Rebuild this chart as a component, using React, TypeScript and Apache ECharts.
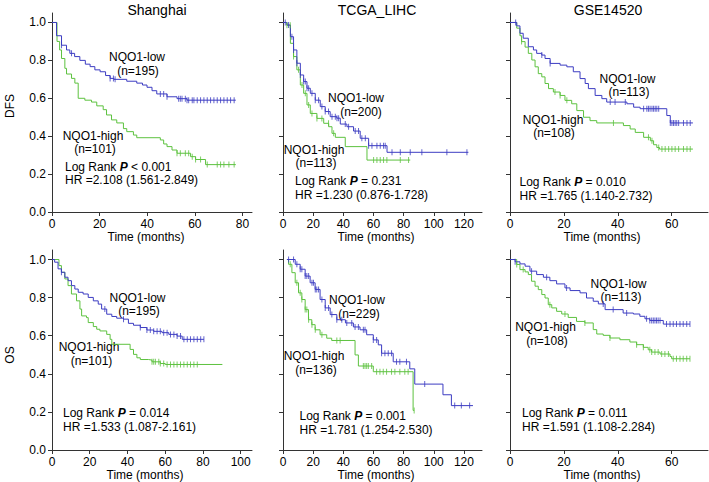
import React, { useEffect, useRef } from 'react';
import * as echarts from 'echarts';

// ---------- tick labels ----------
const yTicks = [0, 0.2, 0.4, 0.6, 0.8, 1.0];
const xTicksShDfs = [0, 20, 40, 60, 80];
const xTicksShOs = [0, 20, 40, 60, 80, 100];
const xTicksTcga = [0, 20, 40, 60, 80, 100, 120];
const xTicksGse = [0, 20, 40, 60];

// ---------- Shanghai DFS ----------
const shDfsLow = [[0,1],[1.9,0.93],[4,0.88],[6.1,0.855],[7.5,0.837],[9.5,0.82],[11.7,0.8],[14,0.78],[16,0.767],[18,0.75],[20.2,0.74],[22.5,0.72],[24.4,0.705],[26,0.7],[31.4,0.69],[35.6,0.68],[38,0.67],[39.9,0.658],[42,0.64],[44,0.623],[48.3,0.608],[52.5,0.598],[56.7,0.59],[77.2,0.59]];
const shDfsLowCens = [4,8.2,24.4,25.8,26.5,45.5,46.9,48.3,53.2,53.9,54.6,56,56.7,57.4,58.9,59.6,61,62.4,63.8,65.2,66.6,68,69.4,70.8,72.2,73.6,75,76.5];
const shDfsHigh = [[0,1],[2.1,0.9],[3.2,0.855],[4,0.81],[5.4,0.758],[6.1,0.728],[8.2,0.705],[9.6,0.68],[11,0.6],[13.8,0.59],[16.6,0.58],[18.8,0.56],[21.5,0.54],[22.9,0.512],[25,0.486],[27.2,0.47],[30,0.44],[31.4,0.424],[34.2,0.406],[35.6,0.392],[45.5,0.38],[46.9,0.359],[48.3,0.345],[50.4,0.327],[52.5,0.31],[58.2,0.292],[60.3,0.277],[64.5,0.25],[77.2,0.25]];
const shDfsHighCens = [52.5,53.9,56,57.4,58.9,60.3,62.4,65.2,69.4,70.8,72.2,74.3,76.5];

// ---------- TCGA_LIHC DFS ----------
const tcgaDfsLow = [[0,1],[2.6,0.987],[4.9,0.925],[7,0.855],[9.2,0.785],[11.5,0.723],[13.7,0.688],[15.9,0.653],[18.1,0.626],[21.4,0.59],[24.7,0.556],[28,0.53],[31.3,0.503],[35.7,0.495],[38,0.464],[42.4,0.45],[46.8,0.427],[51.2,0.389],[56.8,0.35],[69,0.315],[123,0.315]];
const tcgaDfsLowCens = [1.5,3.7,5.9,7,9.2,11.5,13.7,14.8,15.9,17,19.2,21.4,23.6,25.8,28,30.2,32.5,34.7,35.8,36.9,41.3,43.5,47.9,50.1,52.3,54.6,56.8,59,62.3,64.5,66.7,67.8,72.3,77.8,84.4,92.1,108.7,122];
const tcgaDfsHigh = [[0,1],[2.6,0.985],[4.9,0.89],[7,0.82],[9.2,0.75],[11.5,0.67],[13.7,0.626],[15.9,0.565],[18.1,0.52],[22.5,0.494],[27,0.468],[30.3,0.45],[32.5,0.415],[34.7,0.394],[41.3,0.345],[55.7,0.274],[84.4,0.274]];
const tcgaDfsHighCens = [2.6,4.8,7,10.3,12.6,14.8,17,19.2,22.5,25.8,30.2,33.6,60.1,62.3,64.5,66.7,68.9,77.8,83.3];

// ---------- GSE14520 DFS ----------
const gseDfsLow = [[0,1],[2.5,0.982],[3.7,0.943],[4.9,0.917],[6.8,0.872],[8.7,0.855],[9.9,0.837],[11.8,0.828],[13,0.81],[14.9,0.784],[18.6,0.775],[21.1,0.766],[23.5,0.74],[26,0.704],[27.9,0.678],[29.1,0.651],[31.6,0.615],[34.1,0.598],[35.9,0.58],[43.4,0.571],[45.9,0.553],[48.3,0.545],[58.2,0.509],[59.5,0.47],[67.9,0.47]];
const gseDfsLowCens = [2.1,11.8,14.9,37.2,39,42.8,49.6,50.8,51.4,52,52.7,53.3,53.9,54.5,55.2,59.5,60.1,60.7,61.3,61.9,62.6,64.4,65.7,66.9];
const gseDfsHigh = [[0,1],[2.5,0.97],[3.7,0.93],[4.3,0.899],[5.6,0.87],[6.8,0.837],[8.1,0.802],[9.3,0.766],[10.5,0.73],[11.8,0.713],[13,0.678],[14.3,0.651],[16.1,0.633],[18.6,0.615],[20.4,0.589],[22.9,0.571],[24.8,0.535],[27.3,0.5],[29.7,0.482],[32.2,0.47],[42.1,0.456],[44.6,0.438],[46.5,0.42],[49.6,0.394],[52.1,0.376],[53.3,0.355],[54.5,0.34],[55.5,0.332],[67.9,0.332]];
const gseDfsHighCens = [4.3,16.7,18.6,21.1,38.4,51.4,52.7,55.2,56.4,57.6,58.9,60.1,61.3,62.6,64.4,65.7,66.9];

// ---------- Shanghai OS ----------
const shOsLow = [[0,1],[1.4,0.986],[3.2,0.951],[5,0.933],[6.8,0.907],[8.5,0.889],[10.3,0.863],[12.1,0.845],[13.9,0.828],[16.5,0.819],[19.2,0.801],[21.9,0.783],[24.5,0.766],[26.3,0.74],[29,0.713],[31.7,0.701],[34.3,0.692],[37.9,0.687],[40.5,0.665],[43.2,0.655],[46.8,0.643],[50.3,0.63],[53.9,0.623],[58.3,0.616],[61.9,0.607],[66.3,0.598],[69,0.581],[80.5,0.581]];
const shOsLowCens = [5,28,37.9,46.8,50.3,52.1,53.9,55.7,57.4,59.2,61,62.8,64.6,66.3,68.1,69.9,71.7,73.4,75.2,77,78.8,80.5];
const shOsHigh = [[0,1],[3.7,0.968],[5,0.933],[6.8,0.898],[8.5,0.863],[10.3,0.819],[13,0.783],[14.8,0.74],[15.7,0.704],[18.3,0.695],[19.2,0.669],[21.9,0.648],[23.7,0.634],[25.4,0.625],[29,0.607],[30.8,0.581],[31.7,0.555],[41.4,0.528],[43.2,0.502],[45,0.484],[46.8,0.475],[51.2,0.472],[53,0.463],[57.4,0.454],[60,0.449],[90.3,0.449]];
const shOsHighCens = [53,53.9,54.8,56.6,57.4,59.2,61,62.8,64.6,66.3,68.1,69.9,71.7,73.4,75.2,77];

// ---------- TCGA_LIHC OS ----------
const tcgaOsLow = [[2.6,1],[8.1,0.975],[11.4,0.949],[14.7,0.913],[18,0.878],[21.3,0.843],[24.6,0.79],[28,0.746],[31.3,0.711],[35.7,0.684],[41.4,0.667],[46.7,0.646],[51.1,0.631],[55.5,0.605],[59.9,0.578],[63.2,0.552],[65.4,0.508],[73.1,0.463],[84.1,0.426],[87.4,0.346],[106.1,0.29],[111.7,0.233],[126,0.233]];
const tcgaOsLowCens = [3.7,7,9.2,11.4,12.5,14.7,15.8,17,19.2,20.2,21.4,22.4,23.6,25.8,28,30.2,32.4,35.7,39,42.3,45.6,47.8,50,53.3,54.4,59.9,62.1,65.4,67.6,69.8,72,75.3,77.5,81.9,94,113.9,118.3,123.8];
const tcgaOsHigh = [[2.6,1],[3.7,0.975],[5.9,0.931],[8.1,0.878],[10.3,0.825],[12.5,0.79],[14.7,0.737],[16.9,0.684],[19.1,0.658],[21.3,0.631],[24.6,0.605],[29,0.587],[32.3,0.575],[47.8,0.499],[50,0.441],[59.9,0.411],[86.3,0.208],[87,0.208]];
const tcgaOsHighCens = [4.8,9.2,11.4,12.5,14.7,15.8,17,19.2,21.4,25.8,35.7,37.9,53.3,54.4,55.5,56.6,58.8,62.1,64.3,66.5,68.7,72,74.2,77.5,80.8,83,87];

// ---------- GSE14520 OS ----------
const gseOsLow = [[0,1],[1.9,0.988],[3.7,0.977],[5.6,0.965],[7.4,0.939],[9.9,0.921],[12.4,0.907],[14.8,0.889],[17.3,0.872],[20.4,0.851],[22.3,0.837],[26,0.825],[28.4,0.798],[30.9,0.781],[32.8,0.767],[35.3,0.737],[42,0.719],[45.8,0.714],[48.2,0.702],[50.1,0.689],[51.9,0.68],[56.9,0.661],[66.8,0.661]];
const gseOsLowCens = [1.9,8,13.6,21,34.6,38.3,43.3,50.7,51.9,52.6,53.2,53.8,54.4,55,55.7,58.1,59.4,60.6,61.8,63.1,64.3,65.6,66.8];
const gseOsHigh = [[0,1],[2.5,0.974],[3.7,0.947],[5.6,0.935],[6.8,0.921],[8,0.886],[9.3,0.86],[10.5,0.842],[11.8,0.816],[13,0.798],[14.2,0.763],[15.5,0.746],[17.3,0.728],[19.2,0.714],[21.6,0.696],[24.7,0.675],[27.8,0.667],[30.9,0.632],[32.2,0.609],[34.6,0.602],[37.1,0.588],[40.8,0.579],[44.5,0.567],[47,0.553],[49.5,0.539],[51.3,0.526],[52.6,0.514],[55.7,0.504],[59.4,0.491],[60,0.479],[66.8,0.479]];
const gseOsHighCens = [2.5,4.9,14.8,20.4,27.8,37.1,47,49.5,51.9,52.6,53.8,55,56.3,57.5,58.8,60.6,61.8,63.1,64.3,65.6,66.8];

// ---------- texts ----------
const titles = ['Shanghai', 'TCGA_LIHC', 'GSE14520'];
const rowNames = ['DFS', 'OS'];
const xName = 'Time (months)';
const lowLabels = ['NQO1-low', 'NQO1-low', 'NQO1-low', 'NQO1-low', 'NQO1-low', 'NQO1-low'];
const lowN = ['(n=195)', '(n=200)', '(n=113)', '(n=195)', '(n=229)', '(n=113)'];
const highLabels = ['NQO1-high', 'NQO1-high', 'NQO1-high', 'NQO1-high', 'NQO1-high', 'NQO1-high'];
const highN = ['(n=101)', '(n=113)', '(n=108)', '(n=101)', '(n=136)', '(n=108)'];
const pOps = ['<', '=', '=', '=', '=', '='];
const pVals = ['0.001', '0.231', '0.010', '0.014', '0.001', '0.011'];
const hrTexts = ['HR =2.108 (1.561-2.849)', 'HR =1.230 (0.876-1.728)', 'HR =1.765 (1.140-2.732)', 'HR =1.533 (1.087-2.161)', 'HR =1.781 (1.254-2.530)', 'HR =1.591 (1.108-2.284)'];

const BLUE = '#3c3cc2';
const GREEN = '#5dc23f';
const FONT = '"Liberation Sans", Arial, Helvetica, sans-serif';
const AXIS = '#333';

function stepAt(curve: number[][], t: number) {
  let s = curve[0][1];
  for (const [ct, cs] of curve) {
    if (ct <= t) s = cs; else break;
  }
  return s;
}

const panels = [
  { grid: { left: 52, top: 13, width: 200, height: 199 }, xMax: 84, xTicks: xTicksShDfs, yLabels: true, low: shDfsLow, lowC: shDfsLowCens, high: shDfsHigh, highC: shDfsHighCens,
    lowPos: [137, 57, 138, 70.5], highPos: [93, 135.5, 95, 149], statPos: [65, 166.5, 180], namePos: [146, 237] },
  { grid: { left: 283, top: 13, width: 199, height: 199 }, xMax: 132, xTicks: xTicksTcga, yLabels: false, low: tcgaDfsLow, lowC: tcgaDfsLowCens, high: tcgaDfsHigh, highC: tcgaDfsHighCens,
    lowPos: [356, 98, 361, 111.5], highPos: [314, 149.5, 316, 163], statPos: [295, 181, 194.5], namePos: [376, 237] },
  { grid: { left: 510, top: 13, width: 198, height: 199 }, xMax: 73.5, xTicks: xTicksGse, yLabels: false, low: gseDfsLow, lowC: gseDfsLowCens, high: gseDfsHigh, highC: gseDfsHighCens,
    lowPos: [627.5, 78.5, 629, 92], highPos: [553, 119.5, 554, 133], statPos: [519.5, 182, 195.5], namePos: [602, 237] },
  { grid: { left: 52, top: 250, width: 200, height: 200 }, xMax: 106, xTicks: xTicksShOs, yLabels: true, low: shOsLow, lowC: shOsLowCens, high: shOsHigh, highC: shOsHighCens,
    lowPos: [137.5, 297.5, 139, 311], highPos: [89, 347, 91.5, 360.5], statPos: [63, 413, 426.5], namePos: [145, 474.5] },
  { grid: { left: 283, top: 250, width: 199, height: 200 }, xMax: 132, xTicks: xTicksTcga, yLabels: false, low: tcgaOsLow, lowC: tcgaOsLowCens, high: tcgaOsHigh, highC: tcgaOsHighCens,
    lowPos: [357, 300, 359, 313.5], highPos: [314, 356, 316, 369.5], statPos: [299.5, 416, 429.5], namePos: [376, 474.5] },
  { grid: { left: 510, top: 250, width: 198, height: 200 }, xMax: 73.5, xTicks: xTicksGse, yLabels: false, low: gseOsLow, lowC: gseOsLowCens, high: gseOsHigh, highC: gseOsHighCens,
    lowPos: [618.5, 283.5, 621, 297], highPos: [545.5, 327, 547, 340.5], statPos: [522, 413, 426.5], namePos: [602, 474.5] },
];

const titlePos = [[157, 10], [377, 10], [608, 10]];
const rowNamePos = [[10, 106], [10, 355]];

function buildOption() {
  const grids: any[] = [];
  const xAxes: any[] = [];
  const yAxes: any[] = [];
  const series: any[] = [];
  const graphic: any[] = [];

  const txt = (text: string, x: number, y: number, align: string, size = 12, extra: any = {}) => ({
    type: 'text', x, y, silent: true, ...extra,
    style: { text, fill: '#000', fontSize: size, fontFamily: FONT, align, verticalAlign: 'middle' },
  });

  panels.forEach((p, i) => {
    grids.push({ ...p.grid, containLabel: false });
    xAxes.push({
      type: 'value', gridIndex: i, min: 0, max: p.xMax, interval: 20,
      axisLine: { show: true, onZero: false, lineStyle: { color: AXIS, width: 1 } },
      axisTick: { show: true, length: 4, inside: false, customValues: p.xTicks, lineStyle: { color: AXIS } },
      axisLabel: { show: true, customValues: p.xTicks, margin: 6, fontSize: 12, color: '#000', fontFamily: FONT },
      splitLine: { show: false },
    });
    yAxes.push({
      type: 'value', gridIndex: i, min: 0, max: 1.05, interval: 0.2,
      axisLine: { show: true, onZero: false, lineStyle: { color: AXIS, width: 1 } },
      axisTick: { show: true, length: 4, inside: false, customValues: yTicks, lineStyle: { color: AXIS } },
      axisLabel: { show: p.yLabels, customValues: yTicks, margin: 6, fontSize: 12, color: '#000', fontFamily: FONT,
        formatter: (v: number) => v.toFixed(1) },
      splitLine: { show: false },
    });
    const curves: [number[][], number[], string, string][] = [
      [p.high, p.highC, GREEN, 'high'],
      [p.low, p.lowC, BLUE, 'low'],
    ];
    curves.forEach(([curve, cens, color, key]) => {
      series.push({
        type: 'line', name: key + i, xAxisIndex: i, yAxisIndex: i, data: curve, step: 'end',
        symbol: 'none', silent: true, lineStyle: { color, width: 1 }, z: 2,
      });
      series.push({
        type: 'scatter', name: key + 'c' + i, xAxisIndex: i, yAxisIndex: i,
        data: cens.map((t) => [t, stepAt(curve, t)]),
        symbol: 'rect', symbolSize: [1, 6], silent: true, itemStyle: { color }, z: 3,
      });
    });

    graphic.push(txt(lowLabels[i], p.lowPos[0], p.lowPos[1], 'center'));
    graphic.push(txt(lowN[i], p.lowPos[2], p.lowPos[3], 'center'));
    graphic.push(txt(highLabels[i], p.highPos[0], p.highPos[1], 'center'));
    graphic.push(txt(highN[i], p.highPos[2], p.highPos[3], 'center'));
    graphic.push({
      type: 'text', x: p.statPos[0], y: p.statPos[1], silent: true,
      style: {
        text: '{a|Log Rank }{b|P}{a| ' + pOps[i] + ' ' + pVals[i] + '}',
        fill: '#000', fontSize: 12, fontFamily: FONT, align: 'left', verticalAlign: 'middle',
        rich: {
          a: { fontSize: 12, fontFamily: FONT, fill: '#000' },
          b: { fontSize: 12, fontFamily: FONT, fontWeight: 'bold', fontStyle: 'italic', fill: '#000' },
        },
      },
    });
    graphic.push(txt(hrTexts[i], p.statPos[0], p.statPos[2], 'left'));
    graphic.push(txt(xName, p.namePos[0], p.namePos[1], 'center'));
  });

  titles.forEach((t, i) => graphic.push(txt(t, titlePos[i][0], titlePos[i][1], 'center', 14)));
  rowNames.forEach((t, i) => graphic.push(txt(t, rowNamePos[i][0], rowNamePos[i][1], 'center', 12, { rotation: Math.PI / 2 })));

  return {
    animation: false,
    backgroundColor: '#fff',
    grid: grids,
    xAxis: xAxes,
    yAxis: yAxes,
    series,
    graphic,
  };
}

export default function App() {
  const ref = useRef<HTMLDivElement>(null);
  useEffect(() => {
    if (!ref.current) return;
    const chart = echarts.init(ref.current, undefined, { renderer: 'svg' });
    chart.setOption(buildOption() as any);
    return () => chart.dispose();
  }, []);
  return <div ref={ref} style={{ position: 'fixed', left: 0, top: 0, width: 709, height: 482, background: '#fff' }} />;
}
